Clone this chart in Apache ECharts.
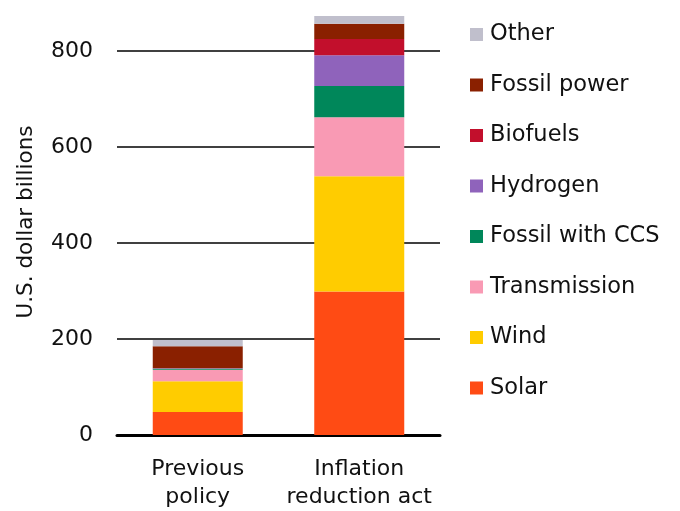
<!DOCTYPE html>
<html>
<head>
<meta charset="utf-8">
<script src="https://cdn.jsdelivr.net/npm/echarts@6/dist/echarts.min.js"></script>
<style>
  html, body { margin: 0; padding: 0; background: #fff; }
  #chart { width: 680px; height: 511px; }
</style>
</head>
<body>
<div id="chart"></div>
<script>
// Investment by technology, U.S. dollar billions
const categories = ['Previous\npolicy', 'Inflation\nreduction act'];

const solar        = [48, 299];
const wind         = [64, 240];
const transmission = [24, 123];
const fossilCCS    = [2, 65];
const hydrogen     = [1, 64];
const biofuels     = [0, 34];
const fossilPower  = [46, 32];
const other        = [13, 16];

const yTicks = [0, 200, 400, 600, 800];

const seriesDefs = [
  { name: 'Solar',           data: solar,        color: '#ff4b14' },
  { name: 'Wind',            data: wind,         color: '#ffcc00' },
  { name: 'Transmission',    data: transmission, color: '#f99ab4' },
  { name: 'Fossil with CCS', data: fossilCCS,    color: '#00875a' },
  { name: 'Hydrogen',        data: hydrogen,     color: '#8f63bb' },
  { name: 'Biofuels',        data: biofuels,     color: '#c20f2c' },
  { name: 'Fossil power',    data: fossilPower,  color: '#8a2000' },
  { name: 'Other',           data: other,        color: '#c0bfcc' }
];

const FONT = '"DejaVu Sans", sans-serif';

const chart = echarts.init(document.getElementById('chart'), null, { renderer: 'canvas' });

chart.setOption({
  animation: false,
  backgroundColor: '#ffffff',
  grid: { left: 117, right: 240, top: 51, bottom: 73, containLabel: false },
  legend: {
    orient: 'vertical',
    left: 465,
    top: 18,
    itemWidth: 13,
    itemHeight: 13,
    itemGap: 27.5,
    icon: 'rect',
    data: seriesDefs.map(s => s.name).reverse(),
    textStyle: { fontFamily: FONT, fontSize: 22.5, lineHeight: 22, color: '#111', padding: [0, 0, 0, 2] },
    selectedMode: false
  },
  xAxis: {
    type: 'category',
    data: categories,
    axisLine: { show: true, lineStyle: { color: '#000', width: 3 } },
    axisTick: { show: false },
    axisLabel: {
      fontFamily: FONT, fontSize: 22, color: '#111',
      lineHeight: 28, margin: 20, interval: 0
    }
  },
  yAxis: {
    type: 'value',
    min: yTicks[0],
    max: yTicks[yTicks.length - 1],
    interval: 200,
    name: 'U.S. dollar billions',
    nameLocation: 'middle',
    nameGap: 80,
    nameRotate: 90,
    nameTextStyle: { fontFamily: FONT, fontSize: 21.5, color: '#111', padding: [0, 0, 0, 42] },
    axisLine: { show: false },
    axisTick: { show: false },
    axisLabel: { fontFamily: FONT, fontSize: 22, color: '#111', margin: 24 },
    splitLine: { show: true, lineStyle: { color: '#000', width: 1.5 } }
  },
  series: seriesDefs.map(s => ({
    name: s.name,
    type: 'bar',
    stack: 'total',
    data: s.data,
    barWidth: 90,
    clip: false,
    itemStyle: { color: s.color },
    emphasis: { disabled: true }
  }))
});
</script>
</body>
</html>
